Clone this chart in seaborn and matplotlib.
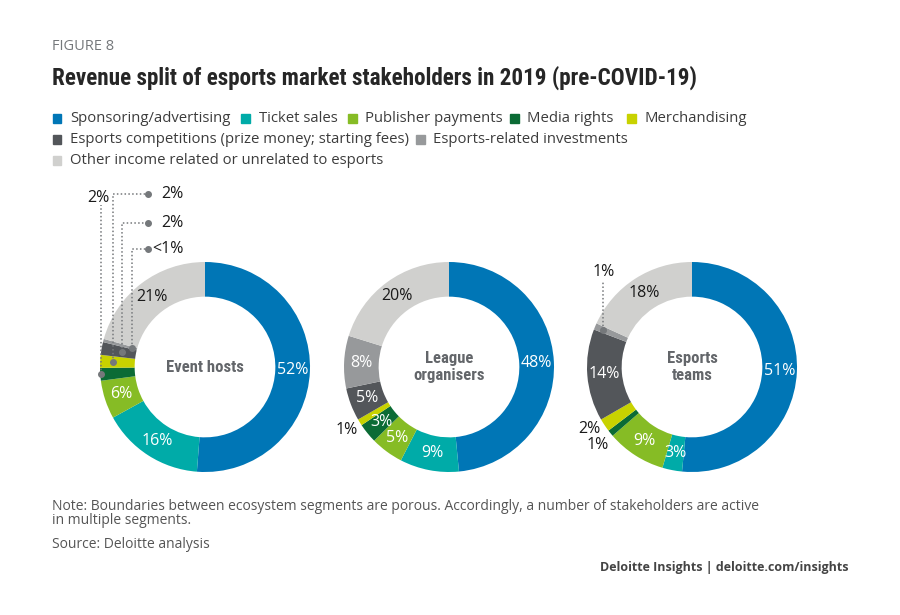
import matplotlib
matplotlib.use('Agg')
from matplotlib import pyplot as plt
import seaborn as sns
import numpy as np
import pandas as pd

# 数据
categories = ['Sponsoring/advertising', 'Ticket sales', 'Publisher payments', 'Media rights',
              'Merchandising', 'Esports competitions (prize money; starting fees)',
              'Esports-related investments', 'Other income related or unrelated to esports']
stakeholders = ['Event hosts', 'League\norganisers', 'Esports\nteams']
eventHosts = [52, 16, 6, 2, 2, 2, 0.5, 21]
leagueOrganisers = [48, 9, 5, 3, 1, 5, 8, 20]
esportsTeams = [51, 3, 9, 1, 2, 14, 1, 18]
eventHostsLabels = ['52%', '16%', '6%', '2%', '2%', '2%', '<1%', '21%']
leagueLabels = ['48%', '9%', '5%', '3%', '1%', '5%', '8%', '20%']
teamsLabels = ['51%', '3%', '9%', '1%', '2%', '14%', '1%', '18%']

palette = ['#0076b6', '#00aba8', '#86bc25', '#0b6b35', '#c8d200', '#53565a', '#97999b', '#d0d0ce']

sns.set_theme(style='white')
plt.rcParams['font.family'] = ['Open Sans', 'DejaVu Sans']
narrow = ['Roboto Condensed', 'Roboto', 'DejaVu Sans']

W, H = 900, 615
fig = plt.figure(figsize=(W / 100, H / 100), dpi=100)
fig.patch.set_facecolor('white')


def fx(x):
    return x / W


def fy(y):
    return 1 - y / H


# 标题
fig.text(fx(52), fy(47), 'FIGURE 8', fontsize=10.5, color='#75787b', va='center', ha='left')
fig.text(fx(52), fy(78), 'Revenue split of esports market stakeholders in 2019 (pre-COVID-19)',
         fontsize=16.7, fontweight='bold', color='#262626', va='center', ha='left', family=narrow)

# 图例
legendRows = [(118, [(57, 0), (246, 1), (352, 2), (514, 3), (631, 4)]),
              (139, [(57, 5), (420, 6)]),
              (160, [(57, 7)])]
for rowY, items in legendRows:
    for x, i in items:
        fig.patches.append(plt.Rectangle((fx(x - 4.5), fy(rowY + 4.5)), 9 / W, 9 / H,
                                         transform=fig.transFigure, color=palette[i]))
        fig.text(fx(x + 13), fy(rowY), categories[i], fontsize=10.7, color='#3c3c3c',
                 va='center', ha='left')

# 甜甜圈图
R = 105
centers = [(205, 367), (449, 367), (692, 367)]
seriesList = [eventHosts, leagueOrganisers, esportsTeams]
labelList = [eventHostsLabels, leagueLabels, teamsLabels]
# 外部标注的扇区
outside = [{3, 4, 5, 6}, {4}, {3, 4, 6}]
lineColor = '#75787b'


def midPoint(w, r):
    a = np.deg2rad((w.theta1 + w.theta2) / 2)
    return r * np.cos(a), r * np.sin(a)


axes = []
for k, (cx, cy) in enumerate(centers):
    ax = fig.add_axes([fx(cx - R), fy(cy + R), 2 * R / W, 2 * R / H])
    wedges, _ = ax.pie(seriesList[k], colors=palette, startangle=90, counterclock=False,
                       radius=1, wedgeprops=dict(width=0.33, edgecolor='none'))
    ax.set_xlim(-1, 1)
    ax.set_ylim(-1, 1)
    ax.set_aspect('equal')
    ax.axis('off')
    for i, w in enumerate(wedges):
        if i in outside[k]:
            continue
        x, y = midPoint(w, 0.835)
        ax.text(x, y, labelList[k][i], fontsize=11.5, ha='center', va='center',
                color='#1a1a1a' if i == 7 else 'white')
    ax.text(0, 0, stakeholders[k], fontsize=12, fontweight='bold', color='#63666a',
            ha='center', va='center', family=narrow, linespacing=1.15)
    axes.append((ax, wedges))


def callout(ax, w, r, topY, endX=None, textXY=None, ha='left', label=''):
    x0, y0 = midPoint(w, r)
    xs, ys = [x0, x0], [y0, topY]
    if endX is not None:
        xs.append(endX)
        ys.append(topY)
        ax.plot([endX], [topY], 'o', ms=4, color=lineColor, clip_on=False)
    ax.plot(xs, ys, ls=(0, (1, 1.5)), lw=1.1, color=lineColor, clip_on=False)
    ax.plot([x0], [y0], 'o', ms=4, color=lineColor, clip_on=False)
    ax.text(textXY[0], textXY[1], label, fontsize=11.5, ha=ha, va='center',
            color='#1a1a1a', clip_on=False)


# Event hosts 外部标注
ax, wedges = axes[0]
callout(ax, wedges[3], 0.995, 1.54, textXY=(-1.02, 1.61), ha='center', label=eventHostsLabels[3])
callout(ax, wedges[4], 0.88, 1.645, endX=-0.543, textXY=(-0.2, 1.645), ha='right', label=eventHostsLabels[4])
callout(ax, wedges[5], 0.80, 1.37, endX=-0.543, textXY=(-0.2, 1.37), ha='right', label=eventHostsLabels[5])
callout(ax, wedges[6], 0.72, 1.12, endX=-0.543, textXY=(-0.2, 1.12), ha='right', label=eventHostsLabels[6])

# League organisers 外部标注
ax, wedges = axes[1]
ax.text(-0.87, -0.6, leagueLabels[4], fontsize=11.5, ha='right', va='center', color='#1a1a1a')

# Esports teams 外部标注
ax, wedges = axes[2]
ax.text(-0.87, -0.59, teamsLabels[4], fontsize=11.5, ha='right', va='center', color='#1a1a1a')
ax.text(-0.79, -0.745, teamsLabels[3], fontsize=11.5, ha='right', va='center', color='#1a1a1a')
callout(ax, wedges[6], 0.92, 0.81, textXY=(-0.84, 0.9), ha='center', label=teamsLabels[6])

# 注释
fig.text(fx(52), fy(506), 'Note: Boundaries between ecosystem segments are porous. Accordingly, a number of stakeholders are active',
         fontsize=10, color='#555555', va='center', ha='left')
fig.text(fx(52), fy(521), 'in multiple segments.', fontsize=10, color='#555555', va='center', ha='left')
fig.text(fx(52), fy(544), 'Source: Deloitte analysis', fontsize=10, color='#555555', va='center', ha='left')
fig.text(fx(849), fy(567), 'Deloitte Insights | deloitte.com/insights', fontsize=9, fontweight='bold',
         color='#444444', va='center', ha='right')

fig.savefig('out.png', dpi=100)
plt.close(fig)
